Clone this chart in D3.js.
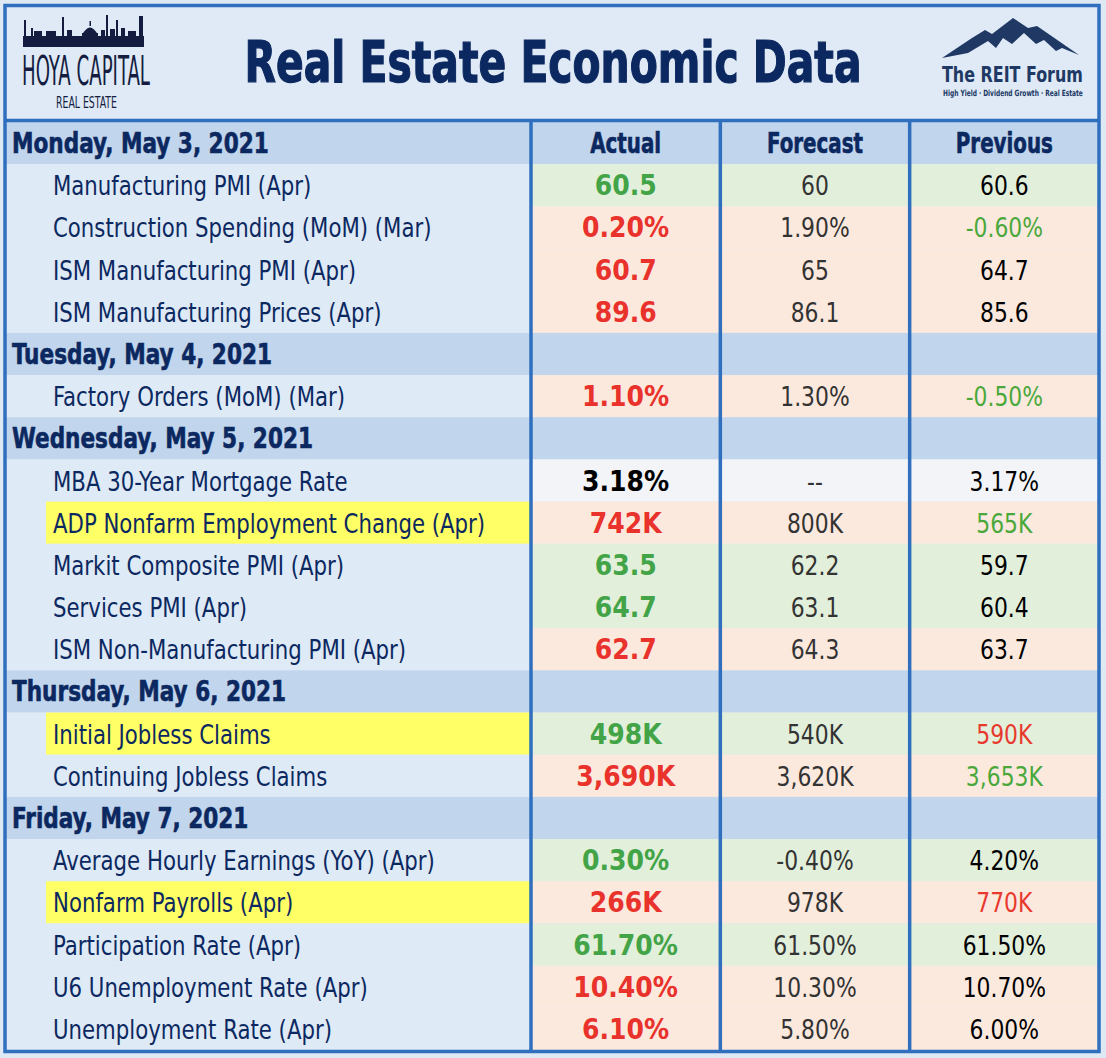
<!DOCTYPE html>
<html>
<head>
<meta charset="utf-8">
<script src="https://cdn.jsdelivr.net/npm/d3@7"></script>
<style>
  html, body { margin: 0; padding: 0; background: #dfe9f4; }
  svg { display: block; }
</style>
</head>
<body>
<svg id="chart" width="1106" height="1058"></svg>
<script>
// the table's data
var days = ["Monday, May 3, 2021", "Tuesday, May 4, 2021", "Wednesday, May 5, 2021",
            "Thursday, May 6, 2021", "Friday, May 7, 2021"];
var columns = ["Actual", "Forecast", "Previous"];
var indicators = [
  "Manufacturing PMI (Apr)", "Construction Spending (MoM) (Mar)", "ISM Manufacturing PMI (Apr)",
  "ISM Manufacturing Prices (Apr)", "Factory Orders (MoM) (Mar)", "MBA 30-Year Mortgage Rate",
  "ADP Nonfarm Employment Change (Apr)", "Markit Composite PMI (Apr)", "Services PMI (Apr)",
  "ISM Non-Manufacturing PMI (Apr)", "Initial Jobless Claims", "Continuing Jobless Claims",
  "Average Hourly Earnings (YoY) (Apr)", "Nonfarm Payrolls (Apr)", "Participation Rate (Apr)",
  "U6 Unemployment Rate (Apr)", "Unemployment Rate (Apr)"
];
var indicatorDay = [0, 0, 0, 0, 1, 2, 2, 2, 2, 2, 3, 3, 4, 4, 4, 4, 4];
var actual   = ["60.5", "0.20%", "60.7", "89.6", "1.10%", "3.18%", "742K", "63.5", "64.7", "62.7",
                "498K", "3,690K", "0.30%", "266K", "61.70%", "10.40%", "6.10%"];
var forecast = ["60", "1.90%", "65", "86.1", "1.30%", "--", "800K", "62.2", "63.1", "64.3",
                "540K", "3,620K", "-0.40%", "978K", "61.50%", "10.30%", "5.80%"];
var previous = ["60.6", "-0.60%", "64.7", "85.6", "-0.50%", "3.17%", "565K", "59.7", "60.4", "63.7",
                "590K", "3,653K", "4.20%", "770K", "61.50%", "10.70%", "6.00%"];
// up = better than forecast (green), down = worse (red), flat = no call
var actualTone   = ["up", "down", "down", "down", "down", "flat", "down", "up", "up", "down",
                    "up", "down", "up", "down", "up", "down", "down"];
var previousTone = ["flat", "up", "flat", "flat", "up", "flat", "up", "flat", "flat", "flat",
                    "down", "up", "flat", "down", "flat", "flat", "flat"];
var highlighted = ["ADP Nonfarm Employment Change (Apr)", "Initial Jobless Claims", "Nonfarm Payrolls (Apr)"];

var navy = "#0c2860",
    lineBlue = "#2f6fbe",
    fontCond = "'Liberation Sans Narrow', 'DejaVu Sans Condensed', Roboto, sans-serif";

var toneFill = { up: "#e2efdb", down: "#fce9de", flat: "#f2f4f8" },
    actualColor = { up: "#43a447", down: "#e8322b", flat: "#000000" },
    prevColor = { up: "#4aa83b", down: "#e8392f", flat: "#000000" };

// flatten into table rows: a day row then its indicators
var rows = [];
days.forEach(function(d, di){
  rows.push({ type: "day", label: d, first: di == 0 });
  indicators.forEach(function(name, i){
    if (indicatorDay[i] == di) {
      rows.push({ type: "item", label: name, values: [actual[i], forecast[i], previous[i]],
                  tone: actualTone[i], prevTone: previousTone[i] });
    }
  });
});

var svg = d3.select("#chart");

var y = d3.scaleBand().domain(d3.range(rows.length)).range([122, 1050]);
var x = d3.scaleBand().domain(columns).range([531, 1099]);
var labelLeft = 5, labelRight = 531;

function measure(str, size, weight){
  var t = svg.append("text").attr("font-family", fontCond).attr("font-size", size)
    .attr("font-weight", weight).text(str);
  var w = t.node().getComputedTextLength();
  t.remove();
  return w;
}
// squeeze a text horizontally around its anchor point with a transform
function squeeze(sel, ratio){
  sel.each(function(){
    var t = d3.select(this),
        px = +t.attr("x"), py = +t.attr("y");
    t.attr("x", 0).attr("y", 0)
     .attr("transform", "translate(" + px + "," + py + ") scale(" + ratio + ",1)");
  });
}
// squeeze a single text so it is exactly w wide
function fitTo(sel, w){
  squeeze(sel, w / sel.node().getComputedTextLength());
}
var labelRatio = 272 / measure("Manufacturing PMI (Apr)", 27, 400),
    dayRatio   = 301 / measure("Wednesday, May 5, 2021", 28, 700),
    boldRatio  = 99 / measure("3,690K", 28, 700),
    valRatio   = 77 / measure("3,620K", 27, 400),
    headRatio  = 96 / measure("Forecast", 28, 700);

// header band
svg.append("rect").attr("x", 5).attr("y", 5).attr("width", 1094).attr("height", 117).attr("fill", "#dfeaf6");

// row backgrounds
var rowG = svg.selectAll("g.row").data(rows).join("g").attr("class", "row")
  .attr("transform", function(d, i){ return "translate(0," + y(i) + ")"; });

rowG.filter(function(d){ return d.type == "day"; }).append("rect")
  .attr("x", labelLeft).attr("width", 1099 - labelLeft).attr("height", y.bandwidth())
  .attr("fill", "#c1d6ec");

var items = rowG.filter(function(d){ return d.type == "item"; });
items.append("rect")
  .attr("x", labelLeft).attr("width", labelRight - labelLeft).attr("height", y.bandwidth())
  .attr("fill", "#deeaf6");
items.append("rect")
  .attr("x", x.range()[0]).attr("width", x.range()[1] - x.range()[0]).attr("height", y.bandwidth())
  .attr("fill", function(d){ return toneFill[d.tone]; });
items.filter(function(d){ return highlighted.indexOf(d.label) >= 0; }).append("rect")
  .attr("x", 46).attr("width", labelRight - 46).attr("height", y.bandwidth())
  .attr("fill", "#ffff66");

var mid = y.bandwidth() / 2;

// day labels + column headers
var dayRows = rowG.filter(function(d){ return d.type == "day"; });
dayRows.append("text")
  .attr("x", 12).attr("y", mid + 10)
  .attr("font-family", fontCond).attr("font-size", 28).attr("font-weight", 700)
  .attr("fill", navy).attr("stroke", navy).attr("stroke-width", 0.6)
  .text(function(d){ return d.label; })
  .call(squeeze, dayRatio);

dayRows.filter(function(d){ return d.first; }).selectAll("text.col").data(columns).join("text")
  .attr("class", "col")
  .attr("x", function(c){ return x(c) + x.bandwidth() / 2; }).attr("y", mid + 10)
  .attr("text-anchor", "middle")
  .attr("font-family", fontCond).attr("font-size", 28).attr("font-weight", 700)
  .attr("fill", navy).attr("stroke", navy).attr("stroke-width", 0.6)
  .text(function(c){ return c; })
  .call(squeeze, headRatio);

// indicator names
items.append("text")
  .attr("x", 53).attr("y", mid + 10)
  .attr("font-family", fontCond).attr("font-size", 27)
  .attr("fill", navy).text(function(d){ return d.label; })
  .call(squeeze, labelRatio * 0.95);

// values
items.each(function(d){
  var g = d3.select(this);
  g.selectAll("text.val").data(columns).join("text")
    .attr("class", "val")
    .attr("x", function(c){ return x(c) + x.bandwidth() / 2; }).attr("y", mid + 10)
    .attr("text-anchor", "middle")
    .attr("font-family", fontCond)
    .attr("font-size", function(c, j){ return j == 0 ? 28 : 27; })
    .attr("font-weight", function(c, j){ return j == 0 ? 700 : 400; })
    .attr("fill", function(c, j){
      if (j == 0) return actualColor[d.tone];
      if (j == 1) return "#333333";
      return prevColor[d.prevTone];
    })
    .text(function(c, j){ return d.values[j]; })
    .each(function(c, j){
      d3.select(this).call(squeeze, j == 0 ? boldRatio : valRatio);
    });
});

// grid lines
svg.append("line").attr("x1", 5).attr("x2", 1099).attr("y1", 120.5).attr("y2", 120.5)
  .attr("stroke", lineBlue).attr("stroke-width", 3.5);
svg.selectAll("line.vdiv").data(columns).join("line").attr("class", "vdiv")
  .attr("x1", function(c){ return x(c); }).attr("x2", function(c){ return x(c); })
  .attr("y1", 122).attr("y2", 1050)
  .attr("stroke", lineBlue).attr("stroke-width", 3.5);
svg.append("rect").attr("x", 5).attr("y", 5.5).attr("width", 1094).attr("height", 1046)
  .attr("fill", "none").attr("stroke", lineBlue).attr("stroke-width", 3.5);

// title
svg.append("text").attr("x", 553).attr("y", 82).attr("text-anchor", "middle")
  .attr("font-family", fontCond).attr("font-size", 56).attr("font-weight", 700)
  .attr("fill", navy).attr("stroke", navy).attr("stroke-width", 1.2)
  .text("Real Estate Economic Data")
  .call(fitTo, 617);

// Hoya Capital logo: skyline
var sky = svg.append("g").attr("fill", "#141d3f");
sky.append("rect").attr("x", 23).attr("y", 36).attr("width", 121).attr("height", 11);
[[24, 20, 2], [31, 28, 2], [34, 31, 8], [46, 31, 10], [62, 17, 2], [67, 30, 5], [82, 33, 16],
 [101, 30, 4], [106, 15, 2], [110, 29, 5], [116, 20, 2], [121, 28, 4], [128, 31, 8], [139, 16, 4]]
 .forEach(function(b){
   sky.append("rect").attr("x", b[0]).attr("y", b[1]).attr("width", b[2]).attr("height", 47 - b[1]);
 });
sky.append("path").attr("d", "M82,35 Q90,20 98,35 Z");
sky.append("rect").attr("x", 89.5).attr("y", 21).attr("width", 1.5).attr("height", 5);

svg.append("text").attr("x", 22).attr("y", 85)
  .attr("font-family", fontCond).attr("font-size", 40).attr("fill", "#141d3f")
  .text("HOYA CAPITAL").call(fitTo, 128);
svg.append("text").attr("x", 56).attr("y", 108)
  .attr("font-family", fontCond).attr("font-size", 15).attr("fill", "#141d3f")
  .text("REAL ESTATE").call(fitTo, 61);

// The REIT Forum logo
svg.append("path")
  .attr("d", "M942,58 L972,38 L985,30 L992,34 L1013,18 L1028,28 L1037,26 L1079,55 " +
             "L1062,48 L1056,51 L1044,40 L1036,44 L1024,33 L1012,44 L1003,38 L996,48 L988,41 L968,53 Z")
  .attr("fill", "#203864");
svg.append("text").attr("x", 942).attr("y", 82)
  .attr("font-family", fontCond).attr("font-size", 21).attr("font-weight", 700).attr("fill", "#203864")
  .text("The REIT Forum").call(fitTo, 141);
svg.append("text").attr("x", 943).attr("y", 96)
  .attr("font-family", fontCond).attr("font-size", 8.5).attr("font-weight", 700).attr("fill", "#203864")
  .text("High Yield · Dividend Growth · Real Estate").call(fitTo, 140);
</script>
</body>
</html>
